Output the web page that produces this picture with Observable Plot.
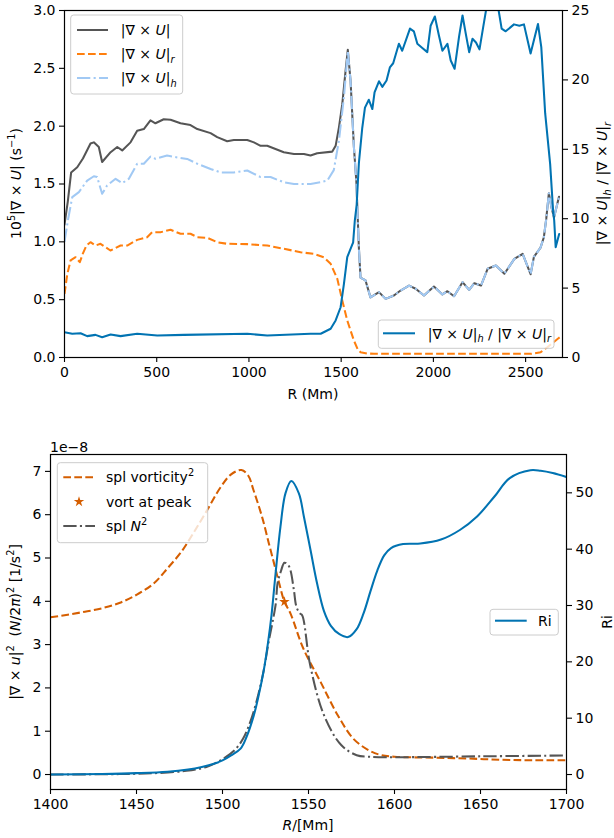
<!DOCTYPE html>
<html><head><meta charset="utf-8">
<script src="https://cdn.jsdelivr.net/npm/d3@7"></script>
<script src="https://cdn.jsdelivr.net/npm/@observablehq/plot@0.6"></script>
<style>
html,body{margin:0;padding:0;background:#fff;}
#chart{width:614px;height:838px;position:relative;}
#chart svg{display:block;}
</style></head><body><div id="chart"></div>
<script>
// ---------------- TOP PANEL DATA ----------------
const topXTicks = [0, 500, 1000, 1500, 2000, 2500];
const topLeftTicks = [0, 0.5, 1.0, 1.5, 2.0, 2.5, 3.0];
const topRightTicks = [0, 5, 10, 15, 20, 25];

const totalR = [0,18,36,69,100,141,159,186,204,250,286,313,358,394,430,466,493,538,575,629,683,720,792,828,882,918,991,1027,1063,1099,1189,1244,1298,1334,1370,1452,1470,1488,1506,1524,1536,1551,1569,1582,1596,1605,1632,1659,1705,1741,1786,1822,1868,1904,1949,2003,2049,2076,2112,2158,2194,2222,2258,2294,2339,2385,2439,2484,2527,2545,2581,2599,2612,2626,2640,2654,2681];
const totalCurl = [1.15,1.35,1.60,1.645,1.72,1.85,1.86,1.82,1.69,1.775,1.82,1.79,1.86,1.96,1.975,2.05,2.025,2.06,2.055,2.025,2.01,1.975,1.94,1.905,1.87,1.88,1.88,1.86,1.83,1.83,1.775,1.76,1.76,1.746,1.766,1.78,1.83,1.99,2.19,2.48,2.66,2.39,1.82,1.53,0.95,0.69,0.666,0.52,0.565,0.507,0.536,0.579,0.622,0.594,0.536,0.614,0.545,0.573,0.53,0.651,0.585,0.642,0.622,0.767,0.795,0.724,0.853,0.896,0.72,0.87,0.95,1.04,1.2,1.42,1.3,1.21,1.39];

const radialR = [0,15,33,60,83,100,119,141,168,195,249,304,340,394,448,475,520,575,629,683,720,774,828,882,991,1099,1189,1280,1352,1406,1443,1479,1506,1533,1569,1590,1605,1640,1678,2533,2582,2619,2650,2673,2690];
const radialCurl = [0.55,0.72,0.84,0.867,0.824,0.90,0.968,0.997,0.968,0.983,0.925,0.968,0.968,1.017,1.04,1.083,1.083,1.104,1.07,1.07,1.04,1.035,0.997,0.983,0.98,0.968,0.94,0.91,0.896,0.867,0.81,0.68,0.493,0.32,0.147,0.07,0.046,0.035,0.032,0.032,0.046,0.09,0.13,0.16,0.18];

const horizR = [0,20,42,78,123,159,177,204,231,277,313,349,394,430,466,493,556,611,665,720,792,846,918,991,1063,1117,1189,1244,1334,1389,1425,1460,1488,1515,1536,1551,1569,1582,1596,1605,1632,1659,1705,1741,1786,1822,1868,1904,1949,2003,2049,2076,2112,2158,2194,2222,2258,2294,2339,2385,2439,2484,2527,2545,2581,2599,2612,2626,2640,2654,2681];
const horizCurl = [1.0,1.2,1.386,1.43,1.53,1.567,1.56,1.415,1.487,1.545,1.507,1.545,1.675,1.675,1.737,1.718,1.746,1.73,1.717,1.675,1.63,1.6,1.6,1.617,1.56,1.56,1.515,1.50,1.50,1.515,1.53,1.62,1.876,2.25,2.65,2.39,1.82,1.53,0.95,0.69,0.666,0.52,0.565,0.507,0.536,0.579,0.622,0.594,0.536,0.614,0.545,0.573,0.53,0.651,0.585,0.642,0.622,0.767,0.795,0.724,0.853,0.896,0.72,0.87,0.95,1.04,1.2,1.42,1.3,1.21,1.39];

const ratioR = [0,42,87,123,168,204,250,304,394,503,647,991,1099,1334,1389,1443,1470,1497,1515,1533,1547,1565,1574,1584,1596,1614,1629,1650,1669,1681,1705,1723,1746,1764,1782,1813,1831,1873,1894,1913,1940,1967,1985,2008,2030,2049,2076,2094,2115,2139,2158,2176,2194,2212,2231,2250,2270,2289,2320,2350,2370,2392,2437,2466,2491,2527,2567,2585,2606,2633,2649,2655,2663,2682];
const ratioHR = [1.82,1.71,1.75,1.54,1.63,1.46,1.66,1.54,1.71,1.58,1.63,1.71,1.58,1.71,1.71,2.07,2.67,3.62,5.31,7.23,7.7,8.3,9.87,11.0,14.0,16.5,18.0,18.57,17.9,19.1,19.9,19.5,19.96,20.9,21.2,22.6,22.1,23.7,23.5,22.6,22.3,22.0,23.9,24.57,23.2,22.1,22.6,21.4,20.8,23.1,24.64,23.3,22.0,22.96,22.7,22.2,23.8,25.3,26.5,25.3,23.7,23.5,24.0,23.9,24.0,21.9,24.03,22.36,17.6,13.95,10.6,9.87,7.95,8.9];

// ---------------- BOTTOM PANEL DATA ----------------
const botXTicks = [1400, 1450, 1500, 1550, 1600, 1650, 1700];
const botLeftTicks = [0, 1, 2, 3, 4, 5, 6, 7];
const botRightTicks = [0, 10, 20, 30, 40, 50];

const vortR = [1400,1410,1420,1430,1440,1450,1460,1468,1476,1483,1491,1499,1505,1511,1515,1518,1523,1527,1530,1533,1536,1539.5,1547,1557,1567,1576,1585,1592,1600,1623,1642,1662,1681,1700];
const vortSq = [3.63,3.69,3.76,3.84,3.96,4.15,4.41,4.76,5.14,5.57,6.10,6.64,6.93,7.03,6.90,6.57,5.95,5.33,4.87,4.41,3.99,3.72,2.91,2.14,1.37,0.83,0.56,0.45,0.41,0.39,0.37,0.34,0.33,0.33];

const peakR = [1536];
const peakVort = [3.99];

const n2R = [1400,1440,1460,1479,1491,1499,1507,1512,1516,1520,1524,1527,1529,1531,1532,1534,1536,1538,1539.5,1541.5,1543,1545,1546.3,1551,1559,1569,1578,1585,1600,1650,1700];
const n2 = [0,0.01,0.03,0.085,0.18,0.33,0.56,0.83,1.2,1.72,2.41,3.1,3.5,3.95,4.41,4.70,4.89,4.85,4.72,4.26,3.87,3.72,3.68,2.52,1.37,0.68,0.445,0.41,0.40,0.42,0.44];

const riR = [1400,1430,1450,1468,1480,1488,1495,1500,1505,1510.5,1514,1518.2,1521,1524,1526.5,1528.5,1530.8,1533.7,1536.6,1540,1544.4,1547.3,1551.2,1555,1559,1563,1568,1573,1578,1582,1586,1590,1594,1598,1605,1615,1627,1638,1648,1658,1667,1679,1685,1692,1700];
const ri = [0,0.1,0.25,0.5,0.9,1.35,1.9,2.5,3.4,4.6,6.7,10.5,14,18.5,23.5,28.3,35.5,44.0,49.9,52.1,49.9,45.8,39.8,33.9,29.0,26.4,24.9,24.4,25.8,28.6,32.5,36.2,38.9,40.2,40.9,41.0,41.7,43.4,45.8,49.3,52.6,54.0,53.9,53.5,52.8];

// ---------------- STYLE ----------------
const GRAY = "#555555", ORANGE = "#ff7f0e", LIGHTBLUE = "#a1c9f4", BLUE = "#0173b2", VERM = "#d55e00";
const FONT = "'DejaVu Sans', sans-serif";
const LW = 2.05;
const DASH = "7.7,3.3";
const DASHDOT = "13.3,3.3,2.1,3.3";

const pts = (xs, ys, f = 1) => xs.map((x, i) => ({x, y: ys[i] * f}));

const kTop = 3 / 25;          // right value -> left units
const botLeftDomain = [-0.346, 7.39];
const kBot = 0.1301;

const baseStyle = {fontFamily: FONT, fontSize: "14px", color: "#000", background: "#fff", overflow: "visible"};
const axisOpts = {tickSize: 5, tickPadding: 4, label: null, strokeWidth: 1.1};

const topPlot = Plot.plot({
  width: 614, height: 410,
  marginLeft: 64, marginRight: 52, marginTop: 10, marginBottom: 53,
  x: {domain: [0, 2700]},
  y: {domain: [0, 3]},
  style: baseStyle,
  marks: [
    Plot.line(pts(totalR, totalCurl), {x: "x", y: "y", stroke: GRAY, strokeWidth: LW, clip: true}),
    Plot.line(pts(radialR, radialCurl), {x: "x", y: "y", stroke: ORANGE, strokeWidth: LW, strokeDasharray: DASH, strokeLinecap: "butt", clip: true}),
    Plot.line(pts(horizR, horizCurl), {x: "x", y: "y", stroke: LIGHTBLUE, strokeWidth: LW, strokeDasharray: DASHDOT, strokeLinecap: "butt", clip: true}),
    Plot.line(pts(ratioR, ratioHR, kTop), {x: "x", y: "y", stroke: BLUE, strokeWidth: LW, clip: true}),
    Plot.axisX({...axisOpts, ticks: topXTicks, tickFormat: d => String(d), tickPadding: 5}),
    Plot.axisY({...axisOpts, anchor: "left", ticks: topLeftTicks, tickFormat: d => d.toFixed(1)}),
    Plot.axisY({...axisOpts, anchor: "right", ticks: topRightTicks.map(v => v * kTop), tickFormat: d => String(Math.round(d / kTop))}),
    Plot.frame({stroke: "#000", strokeWidth: 1.2})
  ]
});

const SMOOTH = "catmull-rom";
const botPlot = Plot.plot({
  width: 614, height: 428,
  marginLeft: 50, marginRight: 48, marginTop: 44, marginBottom: 49,
  x: {domain: [1400, 1700]},
  y: {domain: botLeftDomain},
  style: baseStyle,
  marks: [
    Plot.line(pts(vortR, vortSq), {x: "x", y: "y", curve: SMOOTH, stroke: VERM, strokeWidth: LW, strokeDasharray: DASH, strokeLinecap: "butt", clip: true}),
    Plot.dot(pts(peakR, peakVort), {x: "x", y: "y", symbol: "star", fill: VERM, stroke: "none", r: 3.3}),
    Plot.line(pts(n2R, n2), {x: "x", y: "y", curve: SMOOTH, stroke: GRAY, strokeWidth: LW, strokeDasharray: DASHDOT, strokeLinecap: "butt", clip: true}),
    Plot.line(pts(riR, ri, kBot), {x: "x", y: "y", curve: SMOOTH, stroke: BLUE, strokeWidth: LW, clip: true}),
    Plot.axisX({...axisOpts, ticks: botXTicks, tickFormat: d => String(d), tickPadding: 5}),
    Plot.axisY({...axisOpts, anchor: "left", ticks: botLeftTicks, tickFormat: d => String(d)}),
    Plot.axisY({...axisOpts, anchor: "right", ticks: botRightTicks.map(v => v * kBot), tickFormat: d => String(Math.round(d / kBot))}),
    Plot.frame({stroke: "#000", strokeWidth: 1.2})
  ]
});

const chart = document.getElementById("chart");
chart.appendChild(topPlot);
chart.appendChild(botPlot);

// ---------------- RICH TEXT HELPERS ----------------
function rich(parent, x, y, parts, anchor = "start", transform = null) {
  const t = parent.append("text")
    .attr("x", x).attr("y", y)
    .attr("font-family", FONT).attr("font-size", 14)
    .attr("fill", "#000").attr("text-anchor", anchor)
    .style("white-space", "pre");
  if (transform) t.attr("transform", transform);
  let shift = 0;
  for (const p of parts) {
    const ts = t.append("tspan").text(p.t);
    if (p.i) ts.attr("font-style", "italic");
    const target = p.sub ? 3.5 : p.sup ? -6 : 0;
    if (p.sub || p.sup) ts.attr("font-size", 9.8);
    const dy = target - shift;
    if (dy) ts.attr("dy", dy);
    shift = target;
  }
  return t;
}
const curl = (c) => [{t: "|∇ × "}, {t: "U", i: true}, {t: "|"}].concat(c ? [{t: c, i: true, sub: true}] : []);
const ratioParts = curl("h").concat([{t: " / "}]).concat(curl("r"));

function legendBox(g, x0, y0, x1, y1) {
  g.append("rect").attr("x", x0).attr("y", y0).attr("width", x1 - x0).attr("height", y1 - y0)
    .attr("rx", 3).attr("fill", "#fff").attr("fill-opacity", 0.8).attr("stroke", "#cccccc").attr("stroke-width", 1);
}
function sample(g, x0, x1, y, color, dash) {
  const l = g.append("line").attr("x1", x0).attr("x2", x1).attr("y1", y).attr("y2", y)
    .attr("stroke", color).attr("stroke-width", LW);
  if (dash) l.attr("stroke-dasharray", dash);
}

// ---------------- TOP DECORATIONS ----------------
const st = d3.select(topPlot);
{
  const g = st.append("g");
  legendBox(g, 70.7, 15, 182.7, 94);
  sample(g, 77, 108, 30, GRAY);
  sample(g, 77, 108, 54, ORANGE, DASH);
  sample(g, 77, 108, 78, LIGHTBLUE, DASHDOT);
  rich(g, 120.7, 35, curl(null));
  rich(g, 120.7, 59, curl("r"));
  rich(g, 120.7, 83, curl("h"));
  const g2 = st.append("g");
  legendBox(g2, 378.3, 320, 554, 348.3);
  sample(g2, 383, 415, 333.3, BLUE);
  rich(g2, 427.7, 338.5, ratioParts);
  // axis labels
  rich(st, 0, 5, [{t: "10"}, {t: "5", sup: true}, {t: "|∇ × "}, {t: "U", i: true}, {t: "| (s"}, {t: "−1", sup: true}, {t: ")"}], "middle", "translate(16,183.5) rotate(-90)");
  rich(st, 0, 5, ratioParts, "middle", "translate(602,183.5) rotate(-90)");
  rich(st, 313, 399, [{t: "R (Mm)"}], "middle");
}

// ---------------- BOTTOM DECORATIONS ----------------
const sb = d3.select(botPlot);
{
  const g = sb.append("g");
  legendBox(g, 57.3, 52.7, 207.7, 132.7);
  sample(g, 63.3, 95, 67.3, VERM, DASH);
  g.append("path").attr("d", d3.symbol(d3.symbolStar, 3.3 * 3.3 * Math.PI)())
    .attr("transform", "translate(79,91.7)").attr("fill", VERM);
  sample(g, 63.3, 95, 116, GRAY, DASHDOT);
  rich(g, 106, 72.3, [{t: "spl vorticity"}, {t: "2", sup: true}]);
  rich(g, 106, 96.7, [{t: "vort at peak"}]);
  rich(g, 106, 121, [{t: "spl "}, {t: "N", i: true}, {t: "2", sup: true}]);
  const g2 = sb.append("g");
  legendBox(g2, 490, 199.3, 558.3, 225);
  sample(g2, 495, 526.7, 210.7, BLUE);
  rich(g2, 538, 215.7, [{t: "Ri"}]);
  // offset text and labels
  rich(sb, 50, 42, [{t: "1e−8"}]);
  rich(sb, 0, 5, [{t: "|∇ × "}, {t: "u", i: true}, {t: "|"}, {t: "2", sup: true}, {t: "  ("}, {t: "N", i: true}, {t: "/2"}, {t: "π", i: true}, {t: ")"}, {t: "2", sup: true}, {t: " [1/s"}, {t: "2", sup: true}, {t: "]"}], "middle", "translate(14.5,212) rotate(-90)");
  rich(sb, 0, 5, [{t: "Ri"}], "middle", "translate(607,212) rotate(-90)");
  rich(sb, 308, 420, [{t: "R", i: true}, {t: "/[Mm]"}], "middle");
}
</script></body></html>
